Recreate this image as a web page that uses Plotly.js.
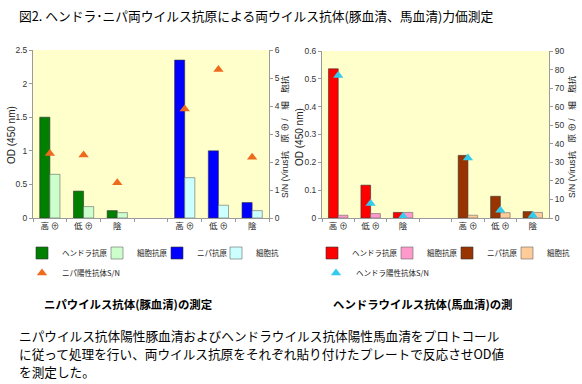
<!DOCTYPE html>
<html>
<head>
<meta charset="utf-8">
<script src="https://cdn.plot.ly/plotly-3.0.1.min.js"></script>
<style>html,body{margin:0;padding:0;background:#fff;}#chart{width:582px;height:384px;}</style>
</head>
<body>
<div id="chart"></div>
<script>
// ---- data ----
const categories = ['H高', 'H低', 'H陰', 'gap', 'N高', 'N低', 'N陰'];
const tickLabels = ['高 ⊕', '低 ⊕', '陰', '', '高 ⊕', '低 ⊕', '陰'];
const hendraCats = ['H高', 'H低', 'H陰'];
const nipahCats = ['N高', 'N低', 'N陰'];
const snCats = ['H高', 'H低', 'H陰', 'N高', 'N低', 'N陰'];

// pig serum (Nipah antibody)
const pigHendraAg = [1.50, 0.40, 0.11];
const pigHendraCell = [0.65, 0.17, 0.08];
const pigNipahAg = [2.35, 1.00, 0.23];
const pigNipahCell = [0.60, 0.19, 0.11];
const pigSN = [2.30, 2.25, 1.26, 3.89, 5.30, 2.17];

// horse serum (Hendra antibody)
const horseHendraAg = [0.536, 0.118, 0.020];
const horseHendraCell = [0.010, 0.016, 0.020];
const horseNipahAg = [0.225, 0.078, 0.023];
const horseNipahCell = [0.010, 0.019, 0.020];
const horseSN = [76.8, 7.8, 0.9, 32.4, 4.2, 1.3];

const legendNames = ['ヘンドラ抗原', '細胞抗原', 'ニパ抗原', '細胞抗'];
const pigSNName = 'ニパ陽性抗体S/N';
const horseSNName = 'ヘンドラ陽性抗体S/N';

// ---- helpers ----
const W = 582, H = 384;
const px = v => v / W;
const py = v => 1 - v / H;
const FONT = 'Liberation Sans, Arial, Noto Sans CJK JP, sans-serif';
const CJK = 'Noto Sans CJK JP, Liberation Sans, sans-serif';
const lineCol = '#9a9a9a';
const barLine = {color: '#333', width: 0.6};
const lightLine = {color: '#666', width: 0.6};

function bar(x, y, name, color, og, xa, ya, leg, ln) {
  return {type: 'bar', x: x, y: y, name: name, offsetgroup: og,
    marker: {color: color, line: ln}, xaxis: xa, yaxis: ya, legend: leg,
    hoverinfo: 'y'};
}
function tri(y, name, color, xa, ya, leg) {
  return {type: 'scatter', mode: 'markers', x: snCats, y: y, name: name,
    marker: {symbol: 'triangle-up', size: 9, color: color, line: {width: 0}},
    xaxis: xa, yaxis: ya, legend: leg};
}

const traces = [
  bar(hendraCats, pigHendraAg, legendNames[0], '#007f00', 'ag', 'x', 'y', 'legend', barLine),
  bar(hendraCats, pigHendraCell, legendNames[1], '#ccffcc', 'cell', 'x', 'y', 'legend2', lightLine),
  bar(nipahCats, pigNipahAg, legendNames[2], '#0000ff', 'ag', 'x', 'y', 'legend3', barLine),
  bar(nipahCats, pigNipahCell, legendNames[3], '#ccffff', 'cell', 'x', 'y', 'legend4', lightLine),
  tri(pigSN, pigSNName, '#ee6a1c', 'x', 'y2', 'legend5'),
  bar(hendraCats, horseHendraAg, legendNames[0], '#ff0000', 'ag', 'x2', 'y3', 'legend6', barLine),
  bar(hendraCats, horseHendraCell, legendNames[1], '#ff99cc', 'cell', 'x2', 'y3', 'legend7', lightLine),
  bar(nipahCats, horseNipahAg, legendNames[2], '#993300', 'ag', 'x2', 'y3', 'legend8', barLine),
  bar(nipahCats, horseNipahCell, legendNames[3], '#ffcc99', 'cell', 'x2', 'y3', 'legend9', lightLine),
  tri(horseSN, horseSNName, '#33ccee', 'x2', 'y4', 'legend10')
];

function xAxis(domain, anchor) {
  return {domain: domain, anchor: anchor, type: 'category',
    categoryorder: 'array', categoryarray: categories,
    tickmode: 'array', tickvals: categories, ticktext: tickLabels,
    range: [-0.5, 6.5], tickson: 'boundaries', ticks: 'outside', ticklen: 3,
    tickcolor: lineCol, showgrid: false, showline: true, linecolor: lineCol,
    linewidth: 1, tickfont: {family: CJK, size: 8.5, color: '#222'}, fixedrange: true};
}
function yAxis(domain, anchor, range, dtick, side, overlay) {
  const a = {domain: domain, anchor: anchor, range: range, dtick: dtick,
    side: side, showgrid: false, zeroline: false, showline: true,
    linecolor: lineCol, linewidth: 1, ticks: 'outside', ticklen: 3,
    tickcolor: lineCol, tickfont: {family: FONT, size: 8.5, color: '#333'},
    fixedrange: true};
  if (overlay) a.overlaying = overlay;
  return a;
}

const yDomL = [py(218), py(50)];
const yDomR = [py(218), py(51)];

// symStart: left edge of the legend symbol in pixels
function legendAt(symStart, yc) {
  return {orientation: 'h', x: px(symStart - 14), xanchor: 'left', y: py(yc),
    yanchor: 'middle', bgcolor: 'rgba(0,0,0,0)', borderwidth: 0,
    font: {family: CJK, size: 7.5, color: '#222'}, itemclick: false,
    itemdoubleclick: false};
}

const ann = [];
function text(t, x, y, size, opts) {
  ann.push(Object.assign({text: t, x: px(x), y: py(y), xref: 'paper', yref: 'paper',
    xanchor: 'left', yanchor: 'middle', showarrow: false,
    font: {family: CJK, size: size, color: '#000'}}, opts || {}));
}
text('図2. ヘンドラ･ニパ両ウイルス抗原による両ウイルス抗体(豚血清、馬血清)力価測定', 17, 15, 12.75);
text('<b>ニパウイルス抗体(豚血清)の測定</b>', 42, 304, 11.4);
text('<b>ヘンドラウイルス抗体(馬血清)の測</b>', 331, 304, 11.4);
text('ニパウイルス抗体陽性豚血清およびヘンドラウイルス抗体陽性馬血清をプロトコール', 17, 335, 12.65);
text('に従って処理を行い、両ウイルス抗原をそれぞれ貼り付けたプレートで反応させOD値', 17, 353, 12.65);
text('を測定した。', 17, 371, 12.65);
const odTitle = 'OD (450 nm)';
const snTitle = 'S/N (Virus抗　原 ⊕ /　細　胞抗';
text(odTitle, 11, 135, 10, {textangle: -90, xanchor: 'center', font: {family: FONT, size: 10, color: '#222'}});
text(odTitle, 300, 137, 10, {textangle: -90, xanchor: 'center', font: {family: FONT, size: 10, color: '#222'}});
text(snTitle, 285, 137, 8.5, {textangle: -90, xanchor: 'center', font: {family: FONT, size: 8.5, color: '#222'}});
text(snTitle, 572, 137, 8.5, {textangle: -90, xanchor: 'center', font: {family: FONT, size: 8.5, color: '#222'}});

const layout = {
  width: W, height: H, margin: {l: 0, r: 0, t: 0, b: 0},
  paper_bgcolor: '#ffffff', plot_bgcolor: '#ffffcc',
  barmode: 'group', bargap: 0.4, bargroupgap: 0,
  font: {family: FONT},
  xaxis: xAxis([px(33), px(269)], 'y'),
  yaxis: yAxis(yDomL, 'x', [0, 2.5], 0.5, 'left'),
  yaxis2: yAxis(yDomL, 'x', [0, 6], 1, 'right', 'y'),
  xaxis2: xAxis([px(322), px(549)], 'y3'),
  yaxis3: yAxis(yDomR, 'x2', [0, 0.6], 0.1, 'left'),
  yaxis4: yAxis(yDomR, 'x2', [0, 90], 10, 'right', 'y3'),
  legend: legendAt(36, 253),
  legend2: legendAt(111, 253),
  legend3: legendAt(171, 253),
  legend4: legendAt(230, 253),
  legend5: legendAt(36, 273),
  legend6: legendAt(326, 253),
  legend7: legendAt(401, 253),
  legend8: legendAt(461, 253),
  legend9: legendAt(521, 253),
  legend10: legendAt(330, 273),
  annotations: ann,
  showlegend: true
};

Plotly.newPlot('chart', traces, layout, {displayModeBar: false, staticPlot: true});
</script>
</body>
</html>
